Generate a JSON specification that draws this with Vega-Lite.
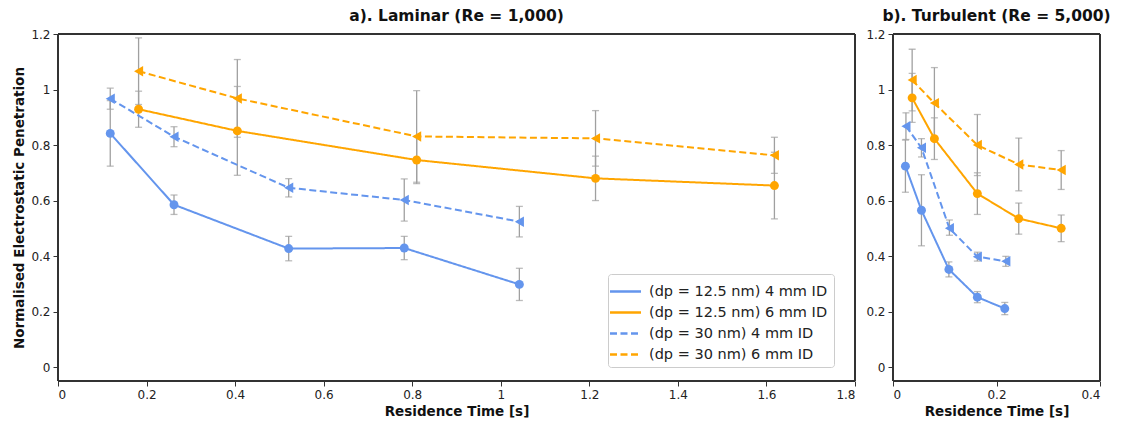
{
  "$schema": "https://vega.github.io/schema/vega-lite/v6.json",
  "padding": {"left": 12, "top": 8, "right": 14, "bottom": 5},
  "spacing": 9,
  "config": {
    "font": "DejaVu Sans",
    "view": {"stroke": null},
    "axis": {"grid": false, "domain": false, "tickColor": "#333333", "tickSize": 5, "labelFontSize": 12, "labelColor": "#222222", "titleFontSize": 13.5, "titleFontWeight": "bold", "titleColor": "#111111", "labelPadding": 3, "format": "~g"},
    "title": {"fontSize": 15.5, "fontWeight": "bold", "anchor": "middle", "offset": 4, "color": "#111111"},
    "legend": {"labelFontSize": 14.5, "labelColor": "#222222", "labelLimit": 0, "symbolStrokeWidth": 2.5, "symbolSize": 400, "fillColor": "white", "strokeColor": "#cccccc", "padding": 6, "cornerRadius": 3, "rowPadding": 3, "labelOffset": 12}
  },
  "resolve": {"scale": {"color": "independent", "strokeDash": "independent"}},
  "datasets": {
    "a": [
      {"series": "(dp = 12.5 nm) 4 mm ID", "t": 0.118, "p": 0.842, "lo": 0.724, "hi": 0.960},
      {"series": "(dp = 12.5 nm) 4 mm ID", "t": 0.262, "p": 0.585, "lo": 0.550, "hi": 0.620},
      {"series": "(dp = 12.5 nm) 4 mm ID", "t": 0.521, "p": 0.427, "lo": 0.383, "hi": 0.471},
      {"series": "(dp = 12.5 nm) 4 mm ID", "t": 0.782, "p": 0.429, "lo": 0.387, "hi": 0.471},
      {"series": "(dp = 12.5 nm) 4 mm ID", "t": 1.042, "p": 0.298, "lo": 0.240, "hi": 0.356},
      {"series": "(dp = 30 nm) 4 mm ID", "t": 0.118, "p": 0.967, "lo": 0.929, "hi": 1.005},
      {"series": "(dp = 30 nm) 4 mm ID", "t": 0.262, "p": 0.830, "lo": 0.794, "hi": 0.866},
      {"series": "(dp = 30 nm) 4 mm ID", "t": 0.521, "p": 0.646, "lo": 0.613, "hi": 0.679},
      {"series": "(dp = 30 nm) 4 mm ID", "t": 0.782, "p": 0.602, "lo": 0.526, "hi": 0.678},
      {"series": "(dp = 30 nm) 4 mm ID", "t": 1.042, "p": 0.524, "lo": 0.469, "hi": 0.579},
      {"series": "(dp = 12.5 nm) 6 mm ID", "t": 0.182, "p": 0.929, "lo": 0.864, "hi": 0.994},
      {"series": "(dp = 12.5 nm) 6 mm ID", "t": 0.405, "p": 0.851, "lo": 0.691, "hi": 1.011},
      {"series": "(dp = 12.5 nm) 6 mm ID", "t": 0.810, "p": 0.746, "lo": 0.661, "hi": 0.831},
      {"series": "(dp = 12.5 nm) 6 mm ID", "t": 1.214, "p": 0.680, "lo": 0.600, "hi": 0.760},
      {"series": "(dp = 12.5 nm) 6 mm ID", "t": 1.618, "p": 0.654, "lo": 0.534, "hi": 0.774},
      {"series": "(dp = 30 nm) 6 mm ID", "t": 0.182, "p": 1.066, "lo": 0.946, "hi": 1.186},
      {"series": "(dp = 30 nm) 6 mm ID", "t": 0.405, "p": 0.968, "lo": 0.828, "hi": 1.108},
      {"series": "(dp = 30 nm) 6 mm ID", "t": 0.810, "p": 0.831, "lo": 0.666, "hi": 0.996},
      {"series": "(dp = 30 nm) 6 mm ID", "t": 1.214, "p": 0.824, "lo": 0.724, "hi": 0.924},
      {"series": "(dp = 30 nm) 6 mm ID", "t": 1.618, "p": 0.763, "lo": 0.698, "hi": 0.828}
    ],
    "b": [
      {"series": "(dp = 12.5 nm) 4 mm ID", "t": 0.024, "p": 0.724, "lo": 0.630, "hi": 0.818},
      {"series": "(dp = 12.5 nm) 4 mm ID", "t": 0.055, "p": 0.565, "lo": 0.437, "hi": 0.693},
      {"series": "(dp = 12.5 nm) 4 mm ID", "t": 0.108, "p": 0.352, "lo": 0.325, "hi": 0.379},
      {"series": "(dp = 12.5 nm) 4 mm ID", "t": 0.163, "p": 0.252, "lo": 0.232, "hi": 0.272},
      {"series": "(dp = 12.5 nm) 4 mm ID", "t": 0.216, "p": 0.211, "lo": 0.189, "hi": 0.233},
      {"series": "(dp = 30 nm) 4 mm ID", "t": 0.025, "p": 0.868, "lo": 0.820, "hi": 0.916},
      {"series": "(dp = 30 nm) 4 mm ID", "t": 0.055, "p": 0.790, "lo": 0.757, "hi": 0.823},
      {"series": "(dp = 30 nm) 4 mm ID", "t": 0.109, "p": 0.500, "lo": 0.475, "hi": 0.530},
      {"series": "(dp = 30 nm) 4 mm ID", "t": 0.163, "p": 0.398, "lo": 0.382, "hi": 0.414},
      {"series": "(dp = 30 nm) 4 mm ID", "t": 0.218, "p": 0.381, "lo": 0.363, "hi": 0.399},
      {"series": "(dp = 12.5 nm) 6 mm ID", "t": 0.037, "p": 0.970, "lo": 0.882, "hi": 1.058},
      {"series": "(dp = 12.5 nm) 6 mm ID", "t": 0.080, "p": 0.823, "lo": 0.748, "hi": 0.898},
      {"series": "(dp = 12.5 nm) 6 mm ID", "t": 0.163, "p": 0.625, "lo": 0.550, "hi": 0.700},
      {"series": "(dp = 12.5 nm) 6 mm ID", "t": 0.243, "p": 0.535, "lo": 0.479, "hi": 0.591},
      {"series": "(dp = 12.5 nm) 6 mm ID", "t": 0.325, "p": 0.500, "lo": 0.452, "hi": 0.548},
      {"series": "(dp = 30 nm) 6 mm ID", "t": 0.037, "p": 1.034, "lo": 0.923, "hi": 1.145},
      {"series": "(dp = 30 nm) 6 mm ID", "t": 0.080, "p": 0.951, "lo": 0.823, "hi": 1.079},
      {"series": "(dp = 30 nm) 6 mm ID", "t": 0.163, "p": 0.800, "lo": 0.690, "hi": 0.910},
      {"series": "(dp = 30 nm) 6 mm ID", "t": 0.243, "p": 0.730, "lo": 0.635, "hi": 0.825},
      {"series": "(dp = 30 nm) 6 mm ID", "t": 0.325, "p": 0.710, "lo": 0.640, "hi": 0.780}
    ]
  },
  "hconcat": [
    {
      "width": 797,
      "height": 347,
      "title": {"text": "a). Laminar (Re = 1,000)"},
      "data": {"name": "a"},
      "encoding": {
        "x": {"field": "t", "type": "quantitative", "scale": {"domain": [0, 1.8], "nice": false, "zero": false, "padding": 0}, "axis": {"values": [0, 0.2, 0.4, 0.6, 0.8, 1, 1.2, 1.4, 1.6, 1.8], "title": "Residence Time [s]"}},
        "y": {"field": "p", "type": "quantitative", "scale": {"domain": [-0.05, 1.2], "nice": false, "zero": false, "padding": 0}, "axis": {"values": [0, 0.2, 0.4, 0.6, 0.8, 1, 1.2], "title": "Normalised Electrostatic Penetration"}}
      },
      "layer": [
        {"mark": {"type": "rule", "color": "#333333", "strokeWidth": 1.2}, "encoding": {"x": {"datum": 0, "type": "quantitative"}, "y": {"datum": -0.05, "type": "quantitative"}, "y2": {"datum": 1.2}}},
        {"mark": {"type": "rule", "color": "#333333", "strokeWidth": 1.2}, "encoding": {"x": {"datum": 1.8, "type": "quantitative"}, "y": {"datum": -0.05, "type": "quantitative"}, "y2": {"datum": 1.2}}},
        {"mark": {"type": "rule", "color": "#333333", "strokeWidth": 1.2}, "encoding": {"y": {"datum": 1.2, "type": "quantitative"}, "x": {"datum": 0, "type": "quantitative"}, "x2": {"datum": 1.8}}},
        {"mark": {"type": "rule", "color": "#333333", "strokeWidth": 1.2}, "encoding": {"y": {"datum": -0.05, "type": "quantitative"}, "x": {"datum": 0, "type": "quantitative"}, "x2": {"datum": 1.8}}},
        {
          "mark": {"type": "errorbar", "ticks": {"size": 7, "color": "#a0a0a0", "thickness": 1.3}, "rule": {"color": "#a0a0a0", "strokeWidth": 1.3}},
          "encoding": {
            "y": {"field": "lo", "type": "quantitative", "scale": {"domain": [-0.05, 1.2], "nice": false, "zero": false, "padding": 0}, "axis": {"values": [0, 0.2, 0.4, 0.6, 0.8, 1, 1.2], "title": "Normalised Electrostatic Penetration"}},
            "y2": {"field": "hi"},
            "detail": {"field": "series", "type": "nominal"}
          }
        },
        {
          "mark": {"type": "line", "strokeWidth": 2},
          "encoding": {
            "color": {"field": "series", "type": "nominal", "scale": {"domain": ["(dp = 12.5 nm) 4 mm ID", "(dp = 12.5 nm) 6 mm ID", "(dp = 30 nm) 4 mm ID", "(dp = 30 nm) 6 mm ID"], "range": ["#6495ED", "#FFA500", "#6495ED", "#FFA500"]}, "legend": {"title": null, "orient": "none", "legendX": 550, "legendY": 240, "symbolType": "M-1.55,0H1.55"}},
            "strokeDash": {"field": "series", "type": "nominal", "scale": {"domain": ["(dp = 12.5 nm) 4 mm ID", "(dp = 12.5 nm) 6 mm ID", "(dp = 30 nm) 4 mm ID", "(dp = 30 nm) 6 mm ID"], "range": [[1, 0], [1, 0], [7, 3.5], [7, 3.5]]}, "legend": {"title": null, "orient": "none", "legendX": 550, "legendY": 240, "symbolType": "M-1.55,0H1.55"}}
          }
        },
        {"transform": [{"filter": "datum.series === '(dp = 12.5 nm) 4 mm ID'"}], "mark": {"type": "point", "filled": true, "size": 80, "opacity": 1, "strokeWidth": 0, "shape": "circle", "color": "#6495ED"}},
        {"transform": [{"filter": "datum.series === '(dp = 12.5 nm) 6 mm ID'"}], "mark": {"type": "point", "filled": true, "size": 80, "opacity": 1, "strokeWidth": 0, "shape": "circle", "color": "#FFA500"}},
        {"transform": [{"filter": "datum.series === '(dp = 30 nm) 4 mm ID'"}], "mark": {"type": "point", "filled": true, "size": 110, "opacity": 1, "strokeWidth": 0, "shape": "triangle-left", "color": "#6495ED"}},
        {"transform": [{"filter": "datum.series === '(dp = 30 nm) 6 mm ID'"}], "mark": {"type": "point", "filled": true, "size": 110, "opacity": 1, "strokeWidth": 0, "shape": "triangle-left", "color": "#FFA500"}}
      ]
    },
    {
      "width": 207,
      "height": 347,
      "title": {"text": "b). Turbulent (Re = 5,000)"},
      "data": {"name": "b"},
      "encoding": {
        "x": {"field": "t", "type": "quantitative", "scale": {"domain": [0, 0.4], "nice": false, "zero": false, "padding": 0}, "axis": {"values": [0, 0.2, 0.4], "title": "Residence Time [s]"}},
        "y": {"field": "p", "type": "quantitative", "scale": {"domain": [-0.05, 1.2], "nice": false, "zero": false, "padding": 0}, "axis": {"values": [0, 0.2, 0.4, 0.6, 0.8, 1, 1.2], "title": null}}
      },
      "layer": [
        {"mark": {"type": "rule", "color": "#333333", "strokeWidth": 1.2}, "encoding": {"x": {"datum": 0, "type": "quantitative"}, "y": {"datum": -0.05, "type": "quantitative"}, "y2": {"datum": 1.2}}},
        {"mark": {"type": "rule", "color": "#333333", "strokeWidth": 1.2}, "encoding": {"x": {"datum": 0.4, "type": "quantitative"}, "y": {"datum": -0.05, "type": "quantitative"}, "y2": {"datum": 1.2}}},
        {"mark": {"type": "rule", "color": "#333333", "strokeWidth": 1.2}, "encoding": {"y": {"datum": 1.2, "type": "quantitative"}, "x": {"datum": 0, "type": "quantitative"}, "x2": {"datum": 0.4}}},
        {"mark": {"type": "rule", "color": "#333333", "strokeWidth": 1.2}, "encoding": {"y": {"datum": -0.05, "type": "quantitative"}, "x": {"datum": 0, "type": "quantitative"}, "x2": {"datum": 0.4}}},
        {
          "mark": {"type": "errorbar", "ticks": {"size": 7, "color": "#a0a0a0", "thickness": 1.3}, "rule": {"color": "#a0a0a0", "strokeWidth": 1.3}},
          "encoding": {
            "y": {"field": "lo", "type": "quantitative", "scale": {"domain": [-0.05, 1.2], "nice": false, "zero": false, "padding": 0}, "axis": {"values": [0, 0.2, 0.4, 0.6, 0.8, 1, 1.2], "title": null}},
            "y2": {"field": "hi"},
            "detail": {"field": "series", "type": "nominal"}
          }
        },
        {
          "mark": {"type": "line", "strokeWidth": 2},
          "encoding": {
            "color": {"field": "series", "type": "nominal", "scale": {"domain": ["(dp = 12.5 nm) 4 mm ID", "(dp = 12.5 nm) 6 mm ID", "(dp = 30 nm) 4 mm ID", "(dp = 30 nm) 6 mm ID"], "range": ["#6495ED", "#FFA500", "#6495ED", "#FFA500"]}, "legend": null},
            "strokeDash": {"field": "series", "type": "nominal", "scale": {"domain": ["(dp = 12.5 nm) 4 mm ID", "(dp = 12.5 nm) 6 mm ID", "(dp = 30 nm) 4 mm ID", "(dp = 30 nm) 6 mm ID"], "range": [[1, 0], [1, 0], [7, 3.5], [7, 3.5]]}, "legend": null}
          }
        },
        {"transform": [{"filter": "datum.series === '(dp = 12.5 nm) 4 mm ID'"}], "mark": {"type": "point", "filled": true, "size": 80, "opacity": 1, "strokeWidth": 0, "shape": "circle", "color": "#6495ED"}},
        {"transform": [{"filter": "datum.series === '(dp = 12.5 nm) 6 mm ID'"}], "mark": {"type": "point", "filled": true, "size": 80, "opacity": 1, "strokeWidth": 0, "shape": "circle", "color": "#FFA500"}},
        {"transform": [{"filter": "datum.series === '(dp = 30 nm) 4 mm ID'"}], "mark": {"type": "point", "filled": true, "size": 110, "opacity": 1, "strokeWidth": 0, "shape": "triangle-left", "color": "#6495ED"}},
        {"transform": [{"filter": "datum.series === '(dp = 30 nm) 6 mm ID'"}], "mark": {"type": "point", "filled": true, "size": 110, "opacity": 1, "strokeWidth": 0, "shape": "triangle-left", "color": "#FFA500"}}
      ]
    }
  ]
}
